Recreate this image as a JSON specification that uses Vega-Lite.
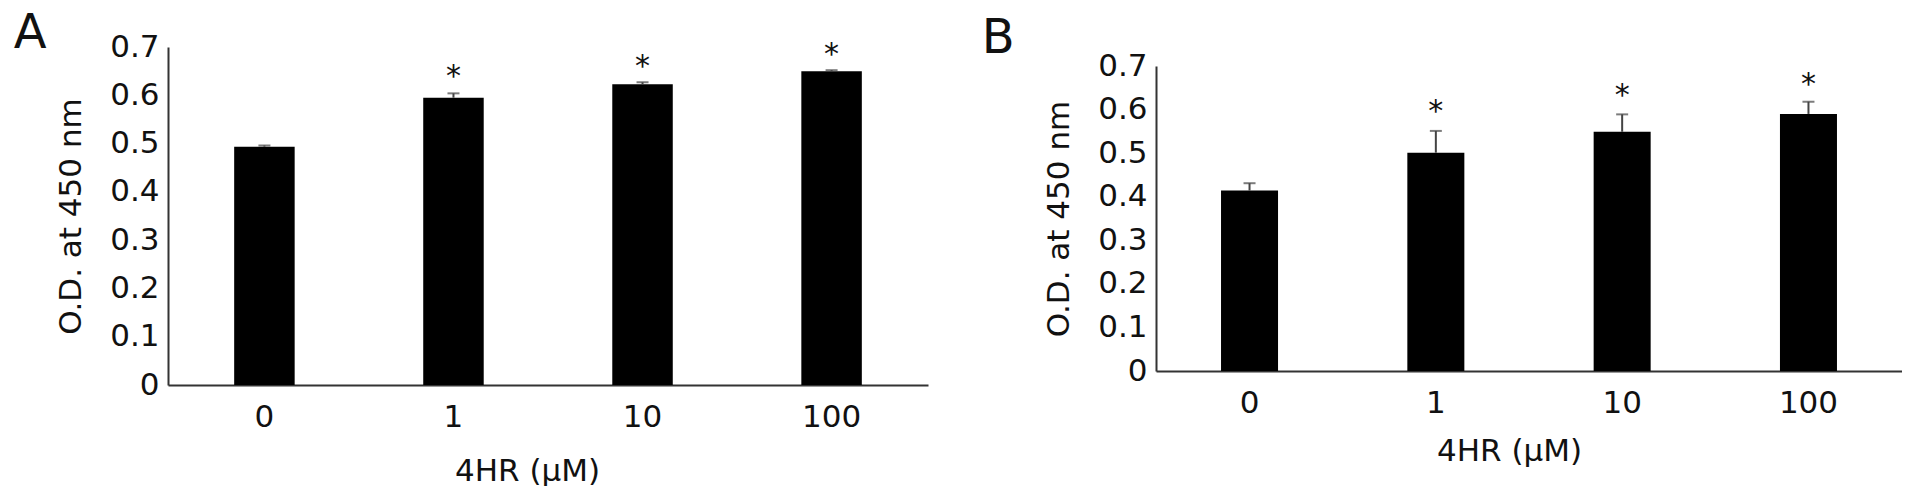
{
  "$schema": "https://vega.github.io/schema/vega-lite/v6.json",
  "padding": {"left": 13, "top": 2, "right": 0, "bottom": 0},
  "background": "white",
  "config": {
    "font": "DejaVu Sans",
    "view": {"stroke": null},
    "axis": {"grid": false, "ticks": false, "domainColor": "#333", "domainWidth": 2, "labelFont": "DejaVu Sans", "labelFontSize": 31, "labelColor": "#111", "titleFont": "DejaVu Sans", "titleFontSize": 31, "titleFontWeight": "normal", "titleColor": "#111"},
    "title": {"font": "DejaVu Sans", "fontSize": 48, "fontWeight": "normal", "anchor": "start", "offset": 0, "baseline": "alphabetic", "color": "#111"}
  },
  "datasets": {
    "a": [
      {"dose": "0", "mean": 0.4935, "upper": 0.496, "star": null, "sig": ""},
      {"dose": "1", "mean": 0.595, "upper": 0.604, "star": 0.649, "sig": "*"},
      {"dose": "10", "mean": 0.623, "upper": 0.627, "star": 0.668, "sig": "*"},
      {"dose": "100", "mean": 0.65, "upper": 0.652, "star": 0.694, "sig": "*"}
    ],
    "b": [
      {"dose": "0", "mean": 0.414, "upper": 0.431, "star": null, "sig": ""},
      {"dose": "1", "mean": 0.501, "upper": 0.551, "star": 0.607, "sig": "*"},
      {"dose": "10", "mean": 0.549, "upper": 0.589, "star": 0.643, "sig": "*"},
      {"dose": "100", "mean": 0.59, "upper": 0.618, "star": 0.668, "sig": "*"}
    ]
  },
  "spacing": 53,
  "hconcat": [
    {
      "spacing": 0,
      "vconcat": [
        {
          "data": {"values": [{"t": ""}]},
          "width": 10,
          "height": 8,
          "mark": {"type": "text", "fontSize": 1},
          "encoding": {"text": {"field": "t"}}
        },
        {
          "data": {"name": "a"},
          "width": 760,
          "height": 338,
          "title": {"text": "A", "dx": -42, "dy": 31},
          "encoding": {
            "x": {"field": "dose", "type": "nominal", "sort": null,
                  "scale": {"paddingInner": 0.68, "paddingOuter": 0.35},
                  "axis": {"title": "4HR (µM)", "labelAngle": 0, "labelPadding": 17, "titlePadding": 24, "titleX": 359}}
          },
          "layer": [
            {
              "mark": {"type": "bar", "color": "#000"},
              "encoding": {
                "y": {"field": "mean", "type": "quantitative", "title": "O.D. at 450 nm",
                      "scale": {"domain": [0, 0.7], "nice": false},
                      "axis": {"values": [0, 0.1, 0.2, 0.3, 0.4, 0.5, 0.6, 0.7], "format": ".1~f", "labelPadding": 9, "titlePadding": 22}}
              }
            },
            {
              "mark": {"type": "rule", "color": "#444", "strokeWidth": 2},
              "encoding": {
                "y": {"field": "mean", "type": "quantitative", "title": "O.D. at 450 nm"},
                "y2": {"field": "upper"}
              }
            },
            {
              "mark": {"type": "tick", "color": "#444", "size": 12, "thickness": 2},
              "encoding": {
                "y": {"field": "upper", "type": "quantitative", "title": "O.D. at 450 nm"}
              }
            },
            {
              "transform": [{"filter": "datum.sig != ''"}],
              "mark": {"type": "text", "fontSize": 30, "baseline": "middle", "dy": 5, "color": "#111"},
              "encoding": {
                "y": {"field": "star", "type": "quantitative", "title": "O.D. at 450 nm"},
                "text": {"field": "sig"}
              }
            }
          ]
        }
      ]
    },
    {
      "spacing": 0,
      "vconcat": [
        {
          "data": {"values": [{"t": ""}]},
          "width": 10,
          "height": 13,
          "mark": {"type": "text", "fontSize": 1},
          "encoding": {"text": {"field": "t"}}
        },
        {
          "data": {"name": "b"},
          "width": 746,
          "height": 305,
          "title": {"text": "B", "dx": -62, "dy": 17},
          "encoding": {
            "x": {"field": "dose", "type": "nominal", "sort": null,
                  "scale": {"paddingInner": 0.694, "paddingOuter": 0.349},
                  "axis": {"title": "4HR (µM)", "labelAngle": 0, "labelPadding": 17, "titlePadding": 18, "titleX": 353}}
          },
          "layer": [
            {
              "mark": {"type": "bar", "color": "#000"},
              "encoding": {
                "y": {"field": "mean", "type": "quantitative", "title": "O.D. at 450 nm",
                      "scale": {"domain": [0, 0.7], "nice": false},
                      "axis": {"values": [0, 0.1, 0.2, 0.3, 0.4, 0.5, 0.6, 0.7], "format": ".1~f", "labelPadding": 9, "titlePadding": 22}}
              }
            },
            {
              "mark": {"type": "rule", "color": "#444", "strokeWidth": 2},
              "encoding": {
                "y": {"field": "mean", "type": "quantitative", "title": "O.D. at 450 nm"},
                "y2": {"field": "upper"}
              }
            },
            {
              "mark": {"type": "tick", "color": "#444", "size": 12, "thickness": 2},
              "encoding": {
                "y": {"field": "upper", "type": "quantitative", "title": "O.D. at 450 nm"}
              }
            },
            {
              "transform": [{"filter": "datum.sig != ''"}],
              "mark": {"type": "text", "fontSize": 30, "baseline": "middle", "dy": 5, "color": "#111"},
              "encoding": {
                "y": {"field": "star", "type": "quantitative", "title": "O.D. at 450 nm"},
                "text": {"field": "sig"}
              }
            }
          ]
        }
      ]
    }
  ]
}
